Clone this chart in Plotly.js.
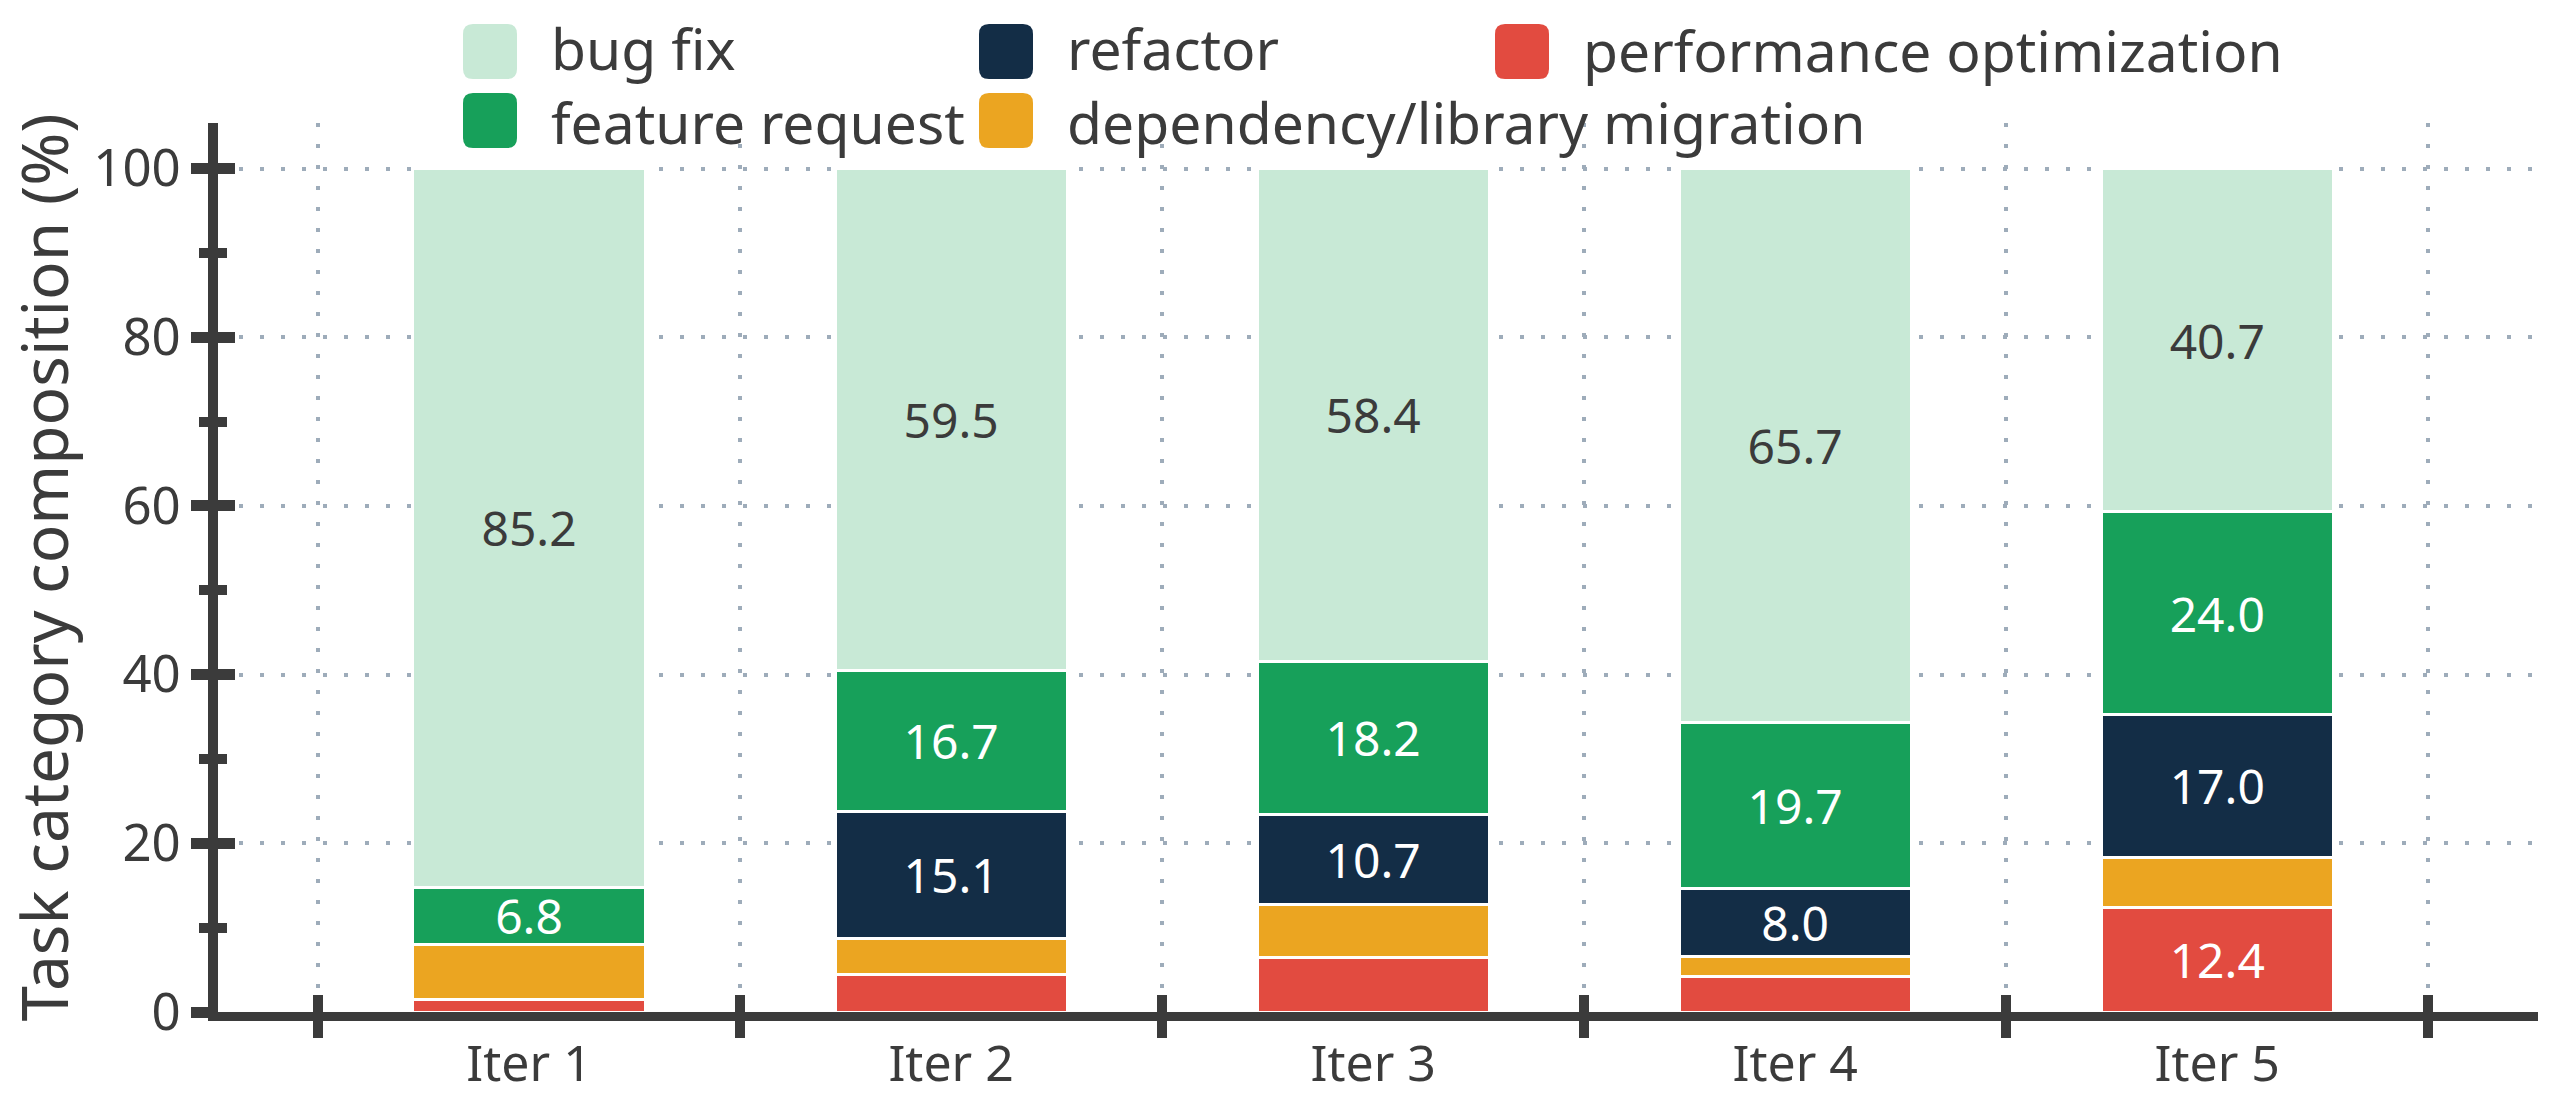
<!DOCTYPE html>
<html>
<head>
<meta charset="utf-8">
<script src="https://cdn.plot.ly/plotly-3.0.1.min.js"></script>
<style>
  html, body { margin: 0; padding: 0; background: #fff; }
  #chart { width: 2563px; height: 1108px; }
</style>
</head>
<body>
<div id="chart"></div>
<script>
// Composición por iteración (%).
const iteraciones = ['Iter 1', 'Iter 2', 'Iter 3', 'Iter 4', 'Iter 5'];

const performanceOpt = [1.5, 4.4, 6.5, 4.2, 12.4];
const dependencia    = [6.5, 4.3, 6.2, 2.4, 5.9];
const refactor       = [0.0, 15.1, 10.7, 8.0, 17.0];
const featureRequest = [6.8, 16.7, 18.2, 19.7, 24.0];
const bugFix         = [85.2, 59.5, 58.4, 65.7, 40.7];

const ticksY = [0, 20, 40, 60, 80, 100];

// de abajo hacia arriba en la pila
const series = [
  { nombre: 'performance optimization', valores: performanceOpt, color: '#e24b40', texto: '#ffffff' },
  { nombre: 'dependency/library migration', valores: dependencia, color: '#eba521', texto: '#ffffff' },
  { nombre: 'refactor', valores: refactor, color: '#132d46', texto: '#ffffff' },
  { nombre: 'feature request', valores: featureRequest, color: '#17a05a', texto: '#ffffff' },
  { nombre: 'bug fix', valores: bugFix, color: '#c8e9d6', texto: '#3b3b3b' },
];

// orden de la leyenda (3 columnas, por filas)
const ordenLeyenda = ['bug fix', 'refactor', 'performance optimization', 'feature request', 'dependency/library migration'];

const OSCURO = '#3b3b3b';
const GRILLA = '#9eacba';
const FUENTE = '"Noto Sans", "Open Sans", sans-serif';

const rangoX = [-0.737, 4.76];
const rangoY = [0, 105.4];

// márgenes en píxeles: el área de trazado queda en x 218..2538, y 123..1012
const M = { l: 218, r: 25, t: 123, b: 96 };
const ANCHO = 2563, ALTO = 1108;
const W = ANCHO - M.l - M.r, H = ALTO - M.t - M.b;
const px2x = (px) => (px - M.l) / W;
const px2y = (py) => (ALTO - M.b - py) / H;

const trazas = series.map((s) => ({
  type: 'bar',
  name: s.nombre,
  x: iteraciones,
  y: s.valores,
  width: 0.55,
  marker: { color: s.color, line: { color: '#ffffff', width: 3 } },
  text: s.valores.map((v) => (v >= 6.6 ? v.toFixed(1) : '')),
  textposition: 'inside',
  insidetextanchor: 'middle',
  textangle: 0,
  textfont: { family: FUENTE, size: 48, color: s.texto },
  hoverinfo: 'name+y',
  showlegend: false,
}));

// traza vacía para que exista el subplot x2/y2 (ticks hacia adentro)
trazas.push({ type: 'scatter', x: [], y: [], xaxis: 'x2', yaxis: 'y2', showlegend: false, hoverinfo: 'skip' });

// leyenda propia: cuadros redondeados grandes como en el original
function rectRedondeado(x0, y0, w, h, r) {
  const x1 = x0 + w, y1 = y0 + h;
  const P = (a, b) => `${px2x(a)},${px2y(b)}`;
  return `M${P(x0 + r, y0)} L${P(x1 - r, y0)} Q${P(x1, y0)} ${P(x1, y0 + r)} ` +
    `L${P(x1, y1 - r)} Q${P(x1, y1)} ${P(x1 - r, y1)} L${P(x0 + r, y1)} ` +
    `Q${P(x0, y1)} ${P(x0, y1 - r)} L${P(x0, y0 + r)} Q${P(x0, y0)} ${P(x0 + r, y0)} Z`;
}

const COLS = 3, PASO_COL = 516, PASO_FILA = 69, IZQ0 = 463, ARRIBA0 = 24;
const formas = [];
const porColumna = [[], [], []];
ordenLeyenda.forEach((nombre, i) => {
  const s = series.find((d) => d.nombre === nombre);
  const col = i % COLS, fila = Math.floor(i / COLS);
  const izq = IZQ0 + col * PASO_COL, arriba = ARRIBA0 + fila * PASO_FILA;
  formas.push({
    type: 'path', xref: 'paper', yref: 'paper',
    path: rectRedondeado(izq, arriba, 54, 55, 10),
    fillcolor: s.color, line: { width: 0 },
  });
  porColumna[col].push(nombre);
});

// un solo bloque de texto por columna, así las cajas no se pisan
const anotaciones = porColumna.map((nombres, col) => {
  const filas = nombres.length;
  const centro = ARRIBA0 + 26 + ((filas - 1) * PASO_FILA) / 2;
  return {
    xref: 'paper', yref: 'paper',
    x: px2x(IZQ0 + col * PASO_COL + 86), y: px2y(centro),
    xanchor: 'left', yanchor: 'middle', align: 'left',
    text: nombres.join('<br>'), showarrow: false,
    font: { family: FUENTE, size: 57, color: OSCURO },
  };
});

const n = iteraciones.length;
const limites = Array.from({ length: n + 1 }, (_, i) => i - 0.5);

const layout = {
  width: ANCHO,
  height: ALTO,
  margin: M,
  barmode: 'stack',
  showlegend: false,
  paper_bgcolor: '#ffffff',
  plot_bgcolor: '#ffffff',
  font: { family: FUENTE, color: OSCURO },
  uniformtext: { mode: 'show', minsize: 48 },
  xaxis: {
    type: 'category',
    range: rangoX,
    tickson: 'boundaries',
    ticks: 'outside',
    ticklen: 17,
    tickwidth: 10,
    tickcolor: OSCURO,
    showline: true,
    linewidth: 9,
    linecolor: OSCURO,
    showgrid: true,
    gridcolor: GRILLA,
    gridwidth: 4,
    griddash: '4px,17px',
    zeroline: false,
    tickfont: { family: FUENTE, size: 50, color: OSCURO },
    fixedrange: true,
  },
  yaxis: {
    range: rangoY,
    tickvals: ticksY,
    ticks: 'outside',
    ticklen: 17,
    tickwidth: 11,
    tickcolor: OSCURO,
    minor: { dtick: 10, ticks: 'outside', ticklen: 9, tickwidth: 10, tickcolor: OSCURO, showgrid: false },
    showline: true,
    linewidth: 10,
    linecolor: OSCURO,
    showgrid: true,
    gridcolor: GRILLA,
    gridwidth: 4,
    griddash: '4px,17px',
    zeroline: false,
    tickfont: { family: FUENTE, size: 51, color: OSCURO },
    title: { text: 'Task category composition (%)', font: { family: FUENTE, size: 64, color: OSCURO }, standoff: 22 },
    fixedrange: true,
  },
  xaxis2: {
    overlaying: 'x',
    anchor: 'y',
    side: 'bottom',
    range: rangoX,
    tickvals: limites,
    ticks: 'inside',
    ticklen: 17,
    tickwidth: 10,
    tickcolor: OSCURO,
    showticklabels: false,
    showgrid: false,
    showline: false,
    zeroline: false,
  },
  yaxis2: {
    overlaying: 'y',
    anchor: 'x',
    side: 'left',
    range: rangoY,
    tickvals: ticksY,
    ticks: 'inside',
    ticklen: 17,
    tickwidth: 11,
    tickcolor: OSCURO,
    minor: { dtick: 10, ticks: 'inside', ticklen: 9, tickwidth: 10, tickcolor: OSCURO, showgrid: false },
    showticklabels: false,
    showgrid: false,
    showline: false,
    zeroline: false,
  },
  shapes: formas,
  annotations: anotaciones,
};

Plotly.newPlot('chart', trazas, layout, { displayModeBar: false, staticPlot: true });
</script>
</body>
</html>
